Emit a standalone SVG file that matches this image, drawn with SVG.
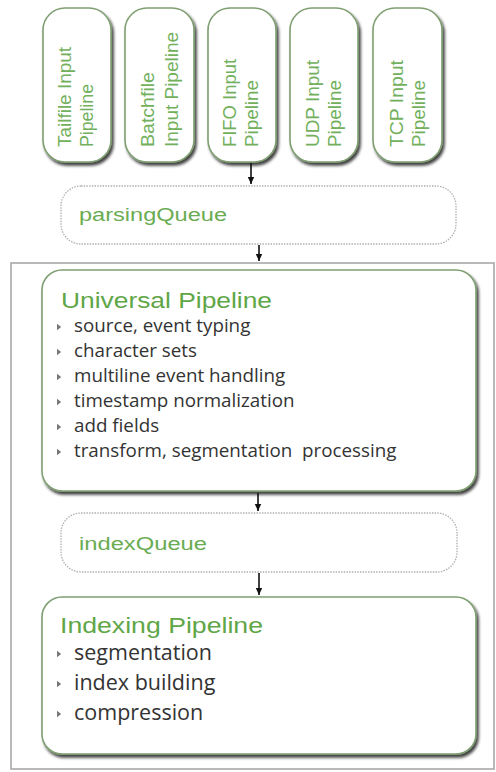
<svg xmlns="http://www.w3.org/2000/svg" width="496" height="772" viewBox="0 0 496 772">
<defs>
<filter id="sh" x="-10%" y="-10%" width="125%" height="125%">
<feGaussianBlur in="SourceAlpha" stdDeviation="1.6"/>
<feOffset dx="2" dy="2.5" result="o"/>
<feComponentTransfer><feFuncA type="linear" slope="0.75"/></feComponentTransfer>
<feMerge><feMergeNode/><feMergeNode in="SourceGraphic"/></feMerge>
</filter>
<marker id="ah" markerWidth="8" markerHeight="8" refX="7" refY="4" orient="auto" markerUnits="userSpaceOnUse">
<path d="M0,0.8 L7,4 L0,7.2 Z" fill="#111"/>
</marker>
<path id="tri" d="M0,-3.2 L4.2,0 L0,3.2 Z"/>
</defs>
<style>
.box{fill:#fff;stroke:#7f9f72;stroke-width:1.6;filter:url(#sh)}
.queue{fill:#fff;stroke:#b0b0b0;stroke-width:1.3;stroke-dasharray:1.5 1.2}
.in{font-family:"Liberation Sans",Arial,sans-serif;font-size:18px;fill:#72b05c}
.q{font-family:"Liberation Sans",Arial,sans-serif;font-size:18px;fill:#6aac52}
.title{font-family:"Liberation Sans",Arial,sans-serif;font-size:22px;fill:#5fa647}
.b1{font-family:"Open Sans","Noto Sans",sans-serif;font-size:18.8px;fill:#333}
.b2{font-family:"Open Sans","Noto Sans",sans-serif;font-size:21.5px;fill:#333}
.mk{fill:#777}
.conn{stroke:#111;stroke-width:1.6;fill:none;marker-end:url(#ah)}
</style>
<rect width="496" height="772" fill="#fff"/>

<g id="outer">
<rect x="11" y="263" width="483" height="506" fill="#fff" stroke="#a8a8a8" stroke-width="1.6"/>
</g>

<g id="tailfile">
<rect class="box" x="43" y="8" width="68" height="154" rx="22"/>
<text class="in" transform="translate(71,147) rotate(-90)" textLength="100" lengthAdjust="spacingAndGlyphs">Tailfile Input</text>
<text class="in" transform="translate(93,147) rotate(-90)" textLength="63" lengthAdjust="spacingAndGlyphs">Pipeline</text>
</g>
<g id="batchfile">
<rect class="box" x="125" y="8" width="69" height="154" rx="22"/>
<text class="in" transform="translate(154,147) rotate(-90)" textLength="75" lengthAdjust="spacingAndGlyphs">Batchfile</text>
<text class="in" transform="translate(178,147) rotate(-90)" textLength="115" lengthAdjust="spacingAndGlyphs">Input Pipeline</text>
</g>
<g id="fifo">
<rect class="box" x="208" y="8" width="68" height="154" rx="22"/>
<text class="in" transform="translate(236,147) rotate(-90)" textLength="88" lengthAdjust="spacingAndGlyphs">FIFO Input</text>
<text class="in" transform="translate(258,147) rotate(-90)" textLength="67" lengthAdjust="spacingAndGlyphs">Pipeline</text>
</g>
<g id="udp">
<rect class="box" x="290" y="8" width="68" height="154" rx="22"/>
<text class="in" transform="translate(319,147) rotate(-90)" textLength="87" lengthAdjust="spacingAndGlyphs">UDP Input</text>
<text class="in" transform="translate(341,147) rotate(-90)" textLength="67" lengthAdjust="spacingAndGlyphs">Pipeline</text>
</g>
<g id="tcp">
<rect class="box" x="373" y="8" width="69" height="154" rx="22"/>
<text class="in" transform="translate(403,147) rotate(-90)" textLength="87" lengthAdjust="spacingAndGlyphs">TCP Input</text>
<text class="in" transform="translate(425,147) rotate(-90)" textLength="67" lengthAdjust="spacingAndGlyphs">Pipeline</text>
</g>

<g id="parsingQueue">
<rect class="queue" x="61" y="186" width="395" height="58" rx="20"/>
<text class="q" x="79" y="221" textLength="148" lengthAdjust="spacingAndGlyphs">parsingQueue</text>
</g>

<g id="universal">
<rect class="box" x="42" y="270" width="434" height="221" rx="20"/>
<text class="title" x="61" y="308" textLength="211" lengthAdjust="spacingAndGlyphs">Universal Pipeline</text>
<use href="#tri" class="mk" x="57" y="327"/>
<text class="b1" x="74" y="332">source, event typing</text>
<use href="#tri" class="mk" x="57" y="352"/>
<text class="b1" x="74" y="357">character sets</text>
<use href="#tri" class="mk" x="57" y="377"/>
<text class="b1" x="74" y="382">multiline event handling</text>
<use href="#tri" class="mk" x="57" y="402"/>
<text class="b1" x="74" y="407">timestamp normalization</text>
<use href="#tri" class="mk" x="57" y="427"/>
<text class="b1" x="74" y="432">add fields</text>
<use href="#tri" class="mk" x="57" y="452"/>
<text class="b1" x="74" y="457" xml:space="preserve">transform, segmentation  processing</text>
</g>

<g id="indexQueue">
<rect class="queue" x="61" y="513" width="396" height="59" rx="20"/>
<text class="q" x="79" y="550" textLength="128" lengthAdjust="spacingAndGlyphs">indexQueue</text>
</g>

<g id="indexing">
<rect class="box" x="42" y="597" width="434" height="157" rx="20"/>
<text class="title" x="60" y="633" textLength="203" lengthAdjust="spacingAndGlyphs">Indexing Pipeline</text>
<use href="#tri" class="mk" x="57" y="654"/>
<text class="b2" x="74" y="660">segmentation</text>
<use href="#tri" class="mk" x="57" y="684"/>
<text class="b2" x="74" y="690">index building</text>
<use href="#tri" class="mk" x="57" y="714"/>
<text class="b2" x="74" y="720">compression</text>
</g>

<g id="connectors">
<line class="conn" x1="251" y1="163" x2="251" y2="184"/>
<line class="conn" x1="259" y1="245" x2="259" y2="261"/>
<line class="conn" x1="258" y1="493" x2="258" y2="511"/>
<line class="conn" x1="259" y1="573" x2="259" y2="595"/>
</g>
</svg>
